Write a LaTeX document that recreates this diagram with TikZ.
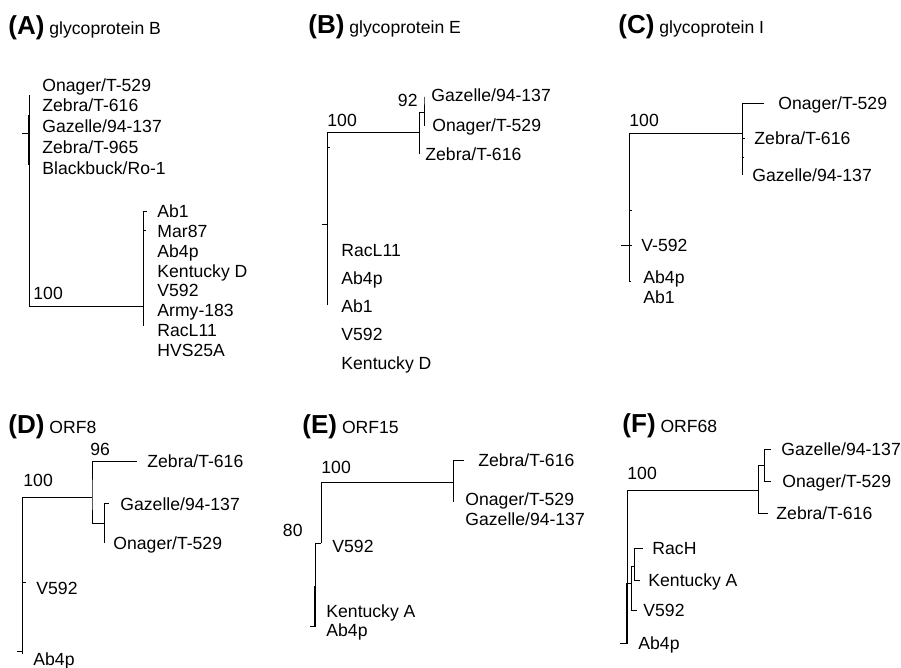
\documentclass[tikz,border=0pt]{standalone}
\usepackage{fontspec}
\setmainfont{Liberation Sans}
\usetikzlibrary{positioning}

\newcommand{\plabel}[1]{{\fontsize{26}{30}\selectfont\bfseries(#1)}}

\begin{document}
\begin{tikzpicture}[
  x=1pt, y=-1pt, line width=0.9pt,
  font=\fontsize{17.6}{20}\selectfont,
  leaf/.style={anchor=west, inner sep=0pt, text height=12.6pt, text depth=0pt},
  boot/.style={leaf},
  ttl/.style={anchor=base west, inner sep=0pt},
  heavy/.style={line width=2pt},
  ]
\useasboundingbox (0,0) rectangle (901,668);

% (A) glycoprotein B
\node[ttl] (tA) at (8,35) {\plabel{A} glycoprotein B};
\coordinate (A0) at (22,133);
\coordinate (A1) at (29,133);
\coordinate (A2) at (29,95);
\coordinate (A3) at (143,306);
\coordinate (A4) at (143,211);
\coordinate (A5) at (143,326);
\coordinate (A6) at (147,211);
\coordinate (A7) at (146,230);
\draw (A0) -- (A1) -- (A2);
\draw (A1) |- (A3);
\draw (A6) -- (A4) -- (A5);
\draw (A7) -| (A4);
\draw[heavy] (A1) ++(0,-18) -- ++(0,50);
\node[boot] (bA) at (33,293) {100};
\foreach \t [count=\i] in {Onager/T-529, Zebra/T-616, Gazelle/94-137, Zebra/T-965, Blackbuck/Ro-1}
  \node[leaf] (Aup\i) at (42,{85+20.7*(\i-1)}) {\t};
\foreach \t [count=\i] in {Ab1, Mar87, Ab4p, Kentucky D, V592, Army-183, RacL11, HVS25A}
  \node[leaf] (Alo\i) at (157,{211+19.9*(\i-1)}) {\t};

% (B) glycoprotein E
\node[ttl] (tB) at (308,34) {\plabel{B} glycoprotein E};
\coordinate (B0) at (322,224);
\coordinate (B1) at (327,132);
\coordinate (B2) at (327,305);
\coordinate (B3) at (419,132);
\coordinate (B4) at (419,112);
\coordinate (B5) at (419,154);
\coordinate (B6) at (424,97);
\coordinate (B7) at (424,126);
\draw (B1) -- (B2);
\draw (B0) -- (B1 |- B0);
\draw (B1) -- (B3);
\draw (B4) -- (B5);
\draw (B4) -| (B6) -- (B7);
\draw (B1) ++(0,15) -- ++(3,0);
\node[boot] (bB1) at (327,120) {100};
\node[boot, anchor=east] (bB2) at (418,100) {92};
\node[leaf] (Bg) at (431,95) {Gazelle/94-137};
\node[leaf] (Bo) at (432,125) {Onager/T-529};
\node[leaf] (Bz) at (425,154) {Zebra/T-616};
\foreach \t [count=\i] in {RacL11, Ab4p, Ab1, V592, Kentucky D}
  \node[leaf] (Blo\i) at (341,{250+28.2*(\i-1)}) {\t};

% (C) glycoprotein I
\node[ttl] (tC) at (618,34) {\plabel{C} glycoprotein I};
\coordinate (C0) at (621,245);
\coordinate (C1) at (632,245);
\coordinate (C2) at (629,133);
\coordinate (C3) at (629,281);
\coordinate (C4) at (742,133);
\coordinate (C5) at (742,103);
\coordinate (C6) at (742,175);
\coordinate (C7) at (764,103);
\draw (C2) -- (C3) -- ++(2,0);
\draw (C0) -- (C1);
\draw (C2) -- (C4);
\draw (C7) -- (C5) -- (C6);
\draw (C4) ++(0,5) -- ++(3,0);
\draw (C4) ++(0,24) -- ++(2,0);
\draw (C2) ++(0,77) -- ++(3,0);
\node[boot] (bC) at (629,120) {100};
\node[leaf] (Co) at (778,103) {Onager/T-529};
\node[leaf] (Cz) at (754,138) {Zebra/T-616};
\node[leaf] (Cg) at (752,175) {Gazelle/94-137};
\node[leaf] (Cv) at (641,245) {V-592};
\node[leaf] (Ca4) at (643,277) {Ab4p};
\node[leaf] (Ca1) at (643,297) {Ab1};

% (D) ORF8
\node[ttl] (tD) at (8,433) {\plabel{D} ORF8};
\coordinate (D0) at (22,497);
\coordinate (D1) at (22,654);
\coordinate (D2) at (92,497);
\coordinate (D3) at (137,461);
\coordinate (D4) at (104,523);
\coordinate (D5) at (109,503);
\coordinate (D6) at (104,543);
\coordinate (D7) at (26,582);
\coordinate (D8) at (17,651);
\draw (D0) -- (D1);
\draw (D0) -- (D2);
\draw (D3) -| (D2) |- (D4);
\draw (D5) -| (D6);
\draw (D7) -| (D0);
\draw (D8) -- (D8 -| D0);
\node[boot] (bD1) at (23,480) {100};
\node[boot] (bD2) at (90,449) {96};
\node[leaf] (Dz) at (147,461) {Zebra/T-616};
\node[leaf] (Dg) at (120,504) {Gazelle/94-137};
\node[leaf] (Do) at (113,543) {Onager/T-529};
\node[leaf] (Dv) at (36,588) {V592};
\node[leaf] (Da) at (33,659) {Ab4p};

% (E) ORF15
\node[ttl] (tE) at (302,433) {\plabel{E} ORF15};
\coordinate (E0) at (321,482);
\coordinate (E1) at (321,543);
\coordinate (E2) at (453,482);
\coordinate (E3) at (464,460);
\coordinate (E4) at (453,502);
\coordinate (E5) at (315,626);
\coordinate (E6) at (310,626);
\draw (E0) -- (E1);
\draw (E0) -- (E2);
\draw (E3) -| (E4);
\draw (E1) -| (E5) -- (E6);
\draw[heavy] (E5) -- ++(0,-40);
\node[boot] (bE1) at (321,467) {100};
\node[boot, anchor=east] (bE2) at (303,530) {80};
\node[leaf] (Ez) at (478,460) {Zebra/T-616};
\node[leaf] (Eo) at (465,499) {Onager/T-529};
\node[leaf] (Eg) at (465,519) {Gazelle/94-137};
\node[leaf] (Ev) at (332,546) {V592};
\node[leaf] (Ek) at (326,611) {Kentucky A};
\node[leaf] (Ea) at (326,630) {Ab4p};

% (F) ORF68
\node[ttl] (tF) at (622,432) {\plabel{F} ORF68};
\coordinate (F0) at (627,490);
\coordinate (F1) at (627,643);
\coordinate (F2) at (758,490);
\coordinate (F3) at (764,465);
\coordinate (F4) at (768,513);
\coordinate (F5) at (771,449);
\coordinate (F6) at (771,481);
\coordinate (F7) at (631,583);
\coordinate (F8) at (634,566);
\coordinate (F9) at (637,610);
\coordinate (F10) at (643,548);
\coordinate (F11) at (640,580);
\coordinate (F12) at (620,643);
\draw (F0) -- (F1) -- (F12);
\draw (F0) -- (F2);
\draw (F3) -| (F2) |- (F4);
\draw (F5) -| (F3) |- (F6);
\draw (F7 -| F0) -- (F7);
\draw (F8) -| (F7) |- (F9);
\draw (F10) -| (F8) |- (F11);
\draw[heavy] (F7 -| F0) -- (F1);
\node[boot] (bF) at (627,473) {100};
\node[leaf] (Fg) at (781,449) {Gazelle/94-137};
\node[leaf] (Fo) at (782,481) {Onager/T-529};
\node[leaf] (Fz) at (776,513) {Zebra/T-616};
\node[leaf] (Fr) at (652,548) {RacH};
\node[leaf] (Fk) at (648,580) {Kentucky A};
\node[leaf] (Fv) at (643,610) {V592};
\node[leaf] (Fa) at (638,643) {Ab4p};
\end{tikzpicture}
\end{document}
